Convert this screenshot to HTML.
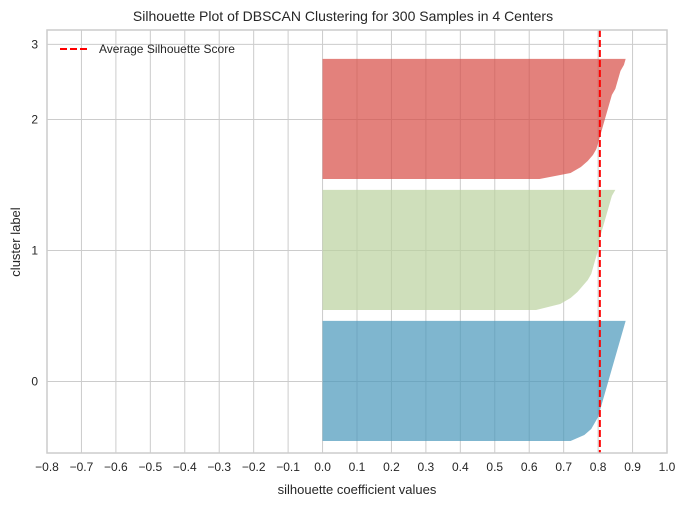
<!DOCTYPE html>
<html><head><meta charset="utf-8"><style>
body{margin:0;background:#fff}
svg{display:block;font-family:"Liberation Sans",sans-serif}
</style></head><body>
<svg id="chart" width="686" height="507"></svg>
<script>
const xTicks=[-0.8,-0.7,-0.6,-0.5,-0.4,-0.3,-0.2,-0.1,0.0,0.1,0.2,0.3,0.4,0.5,0.6,0.7,0.8,0.9,1.0];
const yTickVals=[59.5,168.5,277.5,340];
const yTickLabels=["0","1","2","3"];
const clusterStarts=[10,119,228];
const clusterSizes=[100,100,100];
const clusterColors=["rgb(72,151,186)","rgb(186,209,158)","rgb(215,75,68)"];
const blueValues=[0.72,0.76,0.78,0.79,0.80,0.805,0.81,0.815,0.82,0.825,0.83,0.835,0.84,0.845,0.85,0.855,0.86,0.865,0.87,0.875,0.88];
const greenValues=[0.62,0.69,0.72,0.74,0.755,0.77,0.78,0.785,0.79,0.795,0.80,0.80,0.805,0.81,0.815,0.82,0.825,0.83,0.835,0.84,0.85];
const redValues=[0.63,0.72,0.75,0.77,0.785,0.795,0.80,0.805,0.81,0.815,0.82,0.825,0.83,0.835,0.84,0.85,0.855,0.86,0.865,0.875,0.88];
const avgScore=0.805;
const L=47,R=667,T=30,B=453,ymax=352;
const sx=v=>L+(v+0.8)/1.8*(R-L);
const sy=v=>B-v/ymax*(B-T);
const svg=document.getElementById('chart');
const NS='http://www.w3.org/2000/svg';
function mk(t,a,p){const e=document.createElementNS(NS,t);for(const k in a)e.setAttribute(k,a[k]);(p||svg).appendChild(e);return e;}
xTicks.forEach(v=>{const l=mk('line',{x1:sx(v),x2:sx(v),y1:T,y2:B,stroke:'#cccccc','stroke-width':1});


const t=mk('text',{x:sx(v),y:B+18,'text-anchor':'middle','font-size':12,fill:'#262626'});t.textContent=(v<0?'\u2212':'')+Math.abs(v).toFixed(1);

});
yTickVals.forEach((v,i)=>{const l=mk('line',{x1:L,x2:R,y1:sy(v),y2:sy(v),stroke:'#cccccc','stroke-width':1});


const t=mk('text',{x:L-9,y:sy(v)+4,'text-anchor':'end','font-size':12,fill:'#262626'});t.textContent=yTickLabels[i];

});
[blueValues,greenValues,redValues].forEach((vals,ci)=>{
const s=clusterStarts[ci],n=clusterSizes[ci];let d='M'+sx(0)+','+sy(s);
vals.forEach((v,j)=>{d+=' L'+sx(v)+','+sy(s+j/(vals.length-1)*n);});
d+=' L'+sx(0)+','+sy(s+n)+' Z';
const p=mk('path',{d:d,fill:clusterColors[ci],'fill-opacity':0.7});

});
const al=mk('line',{x1:sx(avgScore),x2:sx(avgScore),y1:T,y2:B,stroke:'#ff0000','stroke-width':2,'stroke-dasharray':'7,3'});


const fr=mk('rect',{x:L,y:T,width:R-L,height:B-T,fill:'none',stroke:'#cccccc','stroke-width':1.5});


</script>
<svg style="position:absolute;left:0;top:0" width="686" height="507">
<text x="343" y="21" text-anchor="middle" font-size="14" fill="#262626" font-family="Liberation Sans,sans-serif">Silhouette Plot of DBSCAN Clustering for 300 Samples in 4 Centers</text>
<text x="357" y="494" text-anchor="middle" font-size="13" fill="#262626" font-family="Liberation Sans,sans-serif">silhouette coefficient values</text>
<text transform="translate(20,242) rotate(-90)" text-anchor="middle" font-size="13" fill="#262626" font-family="Liberation Sans,sans-serif">cluster label</text>
<g>
<line x1="60" x2="87" y1="49" y2="49" stroke="#ff0000" stroke-width="2" stroke-dasharray="7,3"/>
<text x="99" y="53" font-size="12" fill="#262626" font-family="Liberation Sans,sans-serif">Average Silhouette Score</text>
</g>
</svg>
</body></html>
